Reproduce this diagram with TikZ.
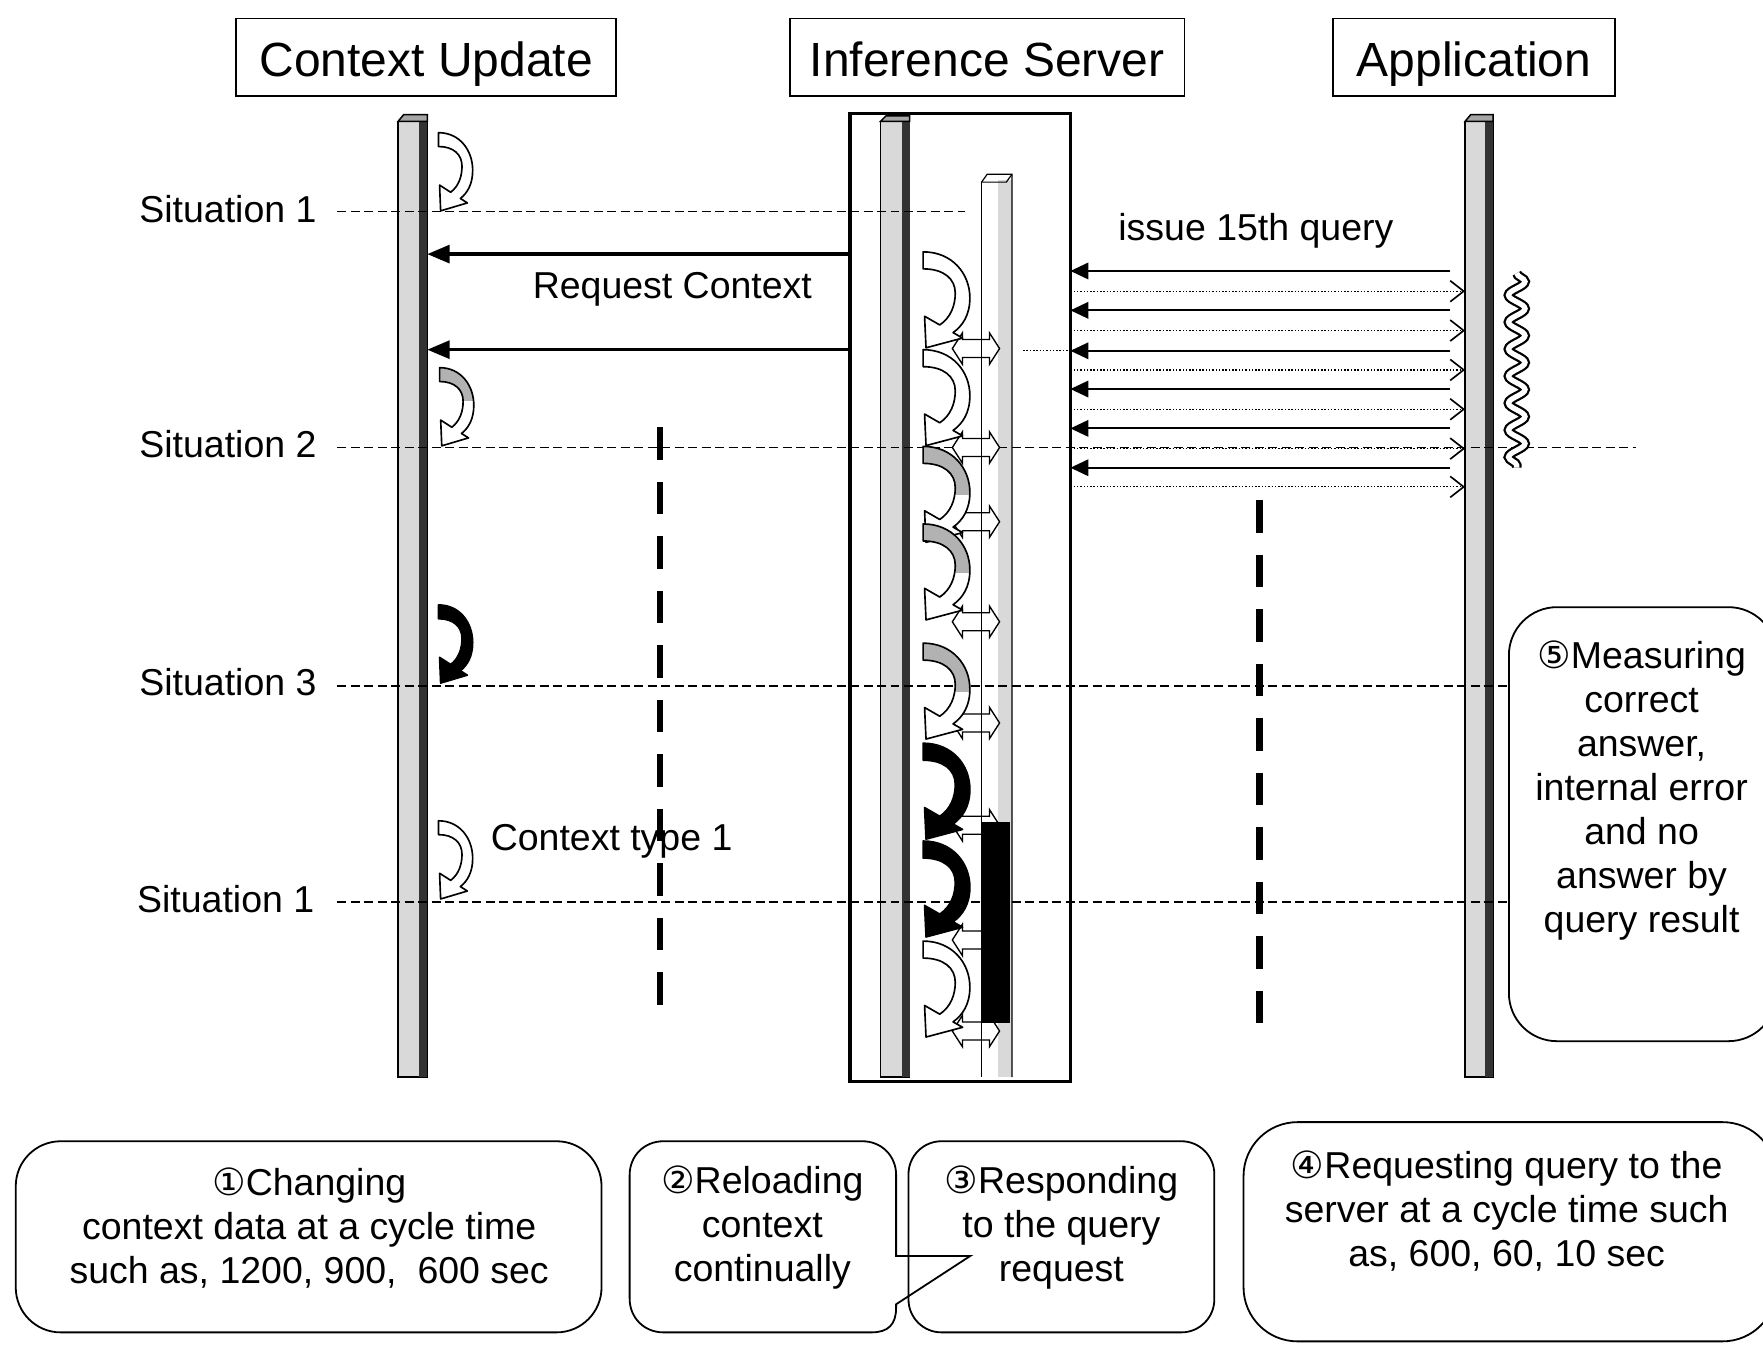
\documentclass[tikz,border=0pt]{standalone}
\usepackage{fontspec}
\setmainfont{Liberation Sans}
\newfontfamily\circfont{DejaVu Sans}
\usetikzlibrary{arrows.meta,fit,calc,decorations.pathmorphing}

% circled step numbers
\newcommand\circnum[1]{{\circfont #1}}

% outline of the curved reload arrow, top left corner at the origin
\newcommand\reloadpath{(0,0) .. controls (20,0) and (32,18) .. (32,38) .. controls (32,52) and (27,61) .. (20.5,66.5) -- (27,71) -- (2,79) -- (1,53) -- (11.4,60.2) .. controls (19,54) and (22,44) .. (22,34) .. controls (22,22) and (14,14) .. (0,14) -- cycle}

\tikzset{
  every picture/.style={line width=0.75pt},
  head/.style={draw, line width=1pt, minimum height=51.75pt, inner sep=0pt, text height=25.5pt, text depth=0pt, font=\fontsize{32}{38}\selectfont},
  lifebar/.style={draw, line width=1pt, fill=black!15, inner sep=0pt, outer sep=0pt},
  barcap/.style={draw, line width=1pt, fill=black!35},
  barside/.style={fill=black!80},
  lbl/.style={inner sep=0pt, font=\fontsize{25}{30}\selectfont},
  sitline/.style={line width=1.1pt, dash pattern=on 6pt off 3pt},
  phase/.style={line width=4.5pt, dash pattern=on 21.75pt off 14.6pt},
  reqarrow/.style={line width=2.2pt, -{Triangle[length=15pt,width=12pt]}},
  qryarrow/.style={line width=1.3pt, -{Triangle[length=12pt,width=11pt]}},
  ansarrow/.style={line width=0.8pt, dash pattern=on 1pt off 1.2pt, -{Straight Barb[length=9pt,width=14pt,line width=1.1pt]}},
  bubble/.style={draw, line width=1.2pt, inner sep=0pt, outer sep=0pt},
  bubtext/.style={inner sep=0pt, align=center, font=\fontsize{25}{29.4}\selectfont},
  pics/reload/.style n args={2}{code={
    \fill[white] \reloadpath;
    \begin{scope}
      \clip \reloadpath;
      \fill[#1] (-2,-2) rectangle (40,#2);
    \end{scope}
    \draw[line width=1.1pt, line join=round] \reloadpath;
  }},
  pics/respond/.style={code={
    \draw[fill=white, line width=0.9pt] (-21,0) -- (-12,-14) -- (-12,-8) -- (12,-8) -- (12,-14) -- (21,0) -- (12,14) -- (12,8) -- (-12,8) -- (-12,14) -- cycle;
  }},
}

\begin{document}
\begin{tikzpicture}[x=0.75pt,y=0.75pt,yscale=-1,xscale=1]
\useasboundingbox (0,0) rectangle (1568,1196);
\clip (0,0) rectangle (1568,1196);

% headers
\node[head, minimum width=253.5pt] (hctx) at (379,51) {Context Update};
\node[head, minimum width=263pt] (hsrv) at (878,51) {Inference Server};
\node[head, minimum width=188pt] (happ) at (1311,51) {Application};

% server frame
\node[draw, line width=2.2pt, inner sep=0pt, outer sep=0pt, fit={(756,101) (952,962)}] (srvbox) {};

% lifelines
\node[lifebar, fit={(354,108) (380,958)}] (ctxbar) {};
\fill[barside] ($(ctxbar.north east)+(-7,0)$) rectangle (ctxbar.south east);
\draw[barcap] (ctxbar.north west) -- ++(5,-6) -- ($(ctxbar.north east)+(0,-6)$) -- (ctxbar.north east) -- cycle;

\node[lifebar, fit={(783,108) (809,958)}] (srvbar) {};
\fill[barside] ($(srvbar.north east)+(-7,0)$) rectangle (srvbar.south east);
\draw[barcap] (srvbar.north west) -- ++(5,-5) -- ($(srvbar.north east)+(0,-5)$) -- (srvbar.north east) -- cycle;

\node[lifebar, fit={(1303,108) (1328,958)}] (appbar) {};
\fill[barside] ($(appbar.north east)+(-7,0)$) rectangle (appbar.south east);
\draw[barcap] (appbar.north west) -- ++(5,-6) -- ($(appbar.north east)+(0,-6)$) -- (appbar.north east) -- cycle;

% query bar inside the server
\fill[black!15] (888,160) rectangle (900,958);
\draw[line width=0.8pt] (873,162) -- (878,155) -- (900,155) -- (900,958);
\draw[line width=0.8pt] (873,162) -- (895,162) -- (900,155);

% situations
\node[lbl, anchor=east] (st1) at (282,186) {Situation 1};
\node[lbl, anchor=east] (st2) at (282,395) {Situation 2};
\node[lbl, anchor=east] (st3) at (282,607) {Situation 3};
\node[lbl, anchor=east] (st4) at (280,800) {Situation 1};
\draw[sitline] (300,188) -- (858,188);
\draw[sitline] (300,398) -- (1455,398);
\draw[sitline] (300,610) -- (1352,610);
\draw[sitline] (300,802) -- (1345,802);

% context requests
\draw[reqarrow] (srvbox.west |- 0,226) -- (ctxbar.east |- 0,226);
\draw[reqarrow] (srvbox.west |- 0,311) -- (ctxbar.east |- 0,311);
\node[lbl] (reqlbl) at (598,257) {Request Context};

% queries and answers
\coordinate (qstart) at (1290,0);
\foreach \y in {241,276,312,346,381,416}
  \draw[qryarrow] (qstart |- 0,\y) -- (srvbox.east |- 0,\y);
\foreach \y in {259,294,329,364,399,433}
  \draw[ansarrow] (srvbox.east |- 0,\y) -- (appbar.west |- 0,\y);
\draw[line width=0.8pt, dash pattern=on 1pt off 1.2pt] (910,312) -- (srvbox.east |- 0,312);
\node[lbl] (isslbl) at (1117,205) {issue 15th query};

% waiting on the application side
\draw[line width=1.5pt, double=white, double distance=3.5pt, decorate,
  decoration={snake, amplitude=5.5pt, segment length=18pt}] (1349,243) -- (1349,416);

% responses
\foreach \y in {310,398,464,553,643,734,836,917}
  \pic at (868,\y) {respond};
\draw[line width=0.8pt] (873,162) -- (873,958);
\fill (873,731) rectangle (898,910);

% reloading in the server
\foreach \t/\c/\h in {224/white/0, 311/white/0, 397/gray!60/40, 466/gray!60/40, 572/gray!60/40, 661/black/90, 748/black/90, 837/white/0}
  \pic[transform shape, xscale=1.3, yscale=1.08] at (821,\t) {reload={\c}{\h}};

% context changes
\pic[transform shape, xscale=0.95, yscale=0.88] at (390,118) {reload={white}{0}};
\pic[transform shape, xscale=0.95, yscale=0.88] at (391,327) {reload={gray!60}{34}};
\pic[transform shape, xscale=0.95, yscale=0.88] at (390,538) {reload={black}{90}};
\pic[transform shape, xscale=0.95, yscale=0.88] at (390,730) {reload={white}{0}};
\node[lbl, anchor=west] (typelbl) at (436,748) {Context type 1};

% phase separators
\draw[phase] (587,380) -- (587,897);
\draw[phase] (1120,445) -- (1120,912);

% notes
\node[bubble, rounded corners=30pt, fit={(14,1015) (535,1185)}] (chgbox) {};
\node[bubtext] (chgtxt) at (275,1092) {\circnum{①}Changing\\context data at a cycle time\\such as, 1200, 900,~ 600 sec};

\draw[line width=1.2pt] (590,1015) -- (767,1015) .. controls (784,1015) and (797,1028) .. (797,1045) -- (797,1117) -- (863,1117) -- (797,1160) -- (797,1163) .. controls (797,1178) and (790,1185) .. (775,1185) -- (590,1185) .. controls (573,1185) and (560,1172) .. (560,1155) -- (560,1045) .. controls (560,1028) and (573,1015) .. (590,1015) -- cycle;
\node[bubtext] (rldtxt) at (678,1092) {\circnum{②}Reloading\\context\\continually};

\node[bubble, rounded corners=22pt, fit={(808,1015) (1080,1185)}] (rspbox) {};
\node[bubtext] (rsptxt) at (944,1092) {\circnum{③}Responding\\to the query\\request};

\node[bubble, rounded corners=36pt, fit={(1106,998) (1580,1193)}] (qrybox) {};
\node[bubtext] (qrytxt) at (1340,1077) {\circnum{④}Requesting query to the\\server at a cycle time such\\as, 600, 60, 10 sec};

\node[bubble, fill=white, rounded corners=32pt, fit={(1342,540) (1580,926)}] (msrbox) {};
\node[bubtext] (msrtxt) at (1460,703) {\circnum{⑤}Measuring\\correct\\answer,\\internal error\\and no\\answer by\\query result};

\end{tikzpicture}
\end{document}
